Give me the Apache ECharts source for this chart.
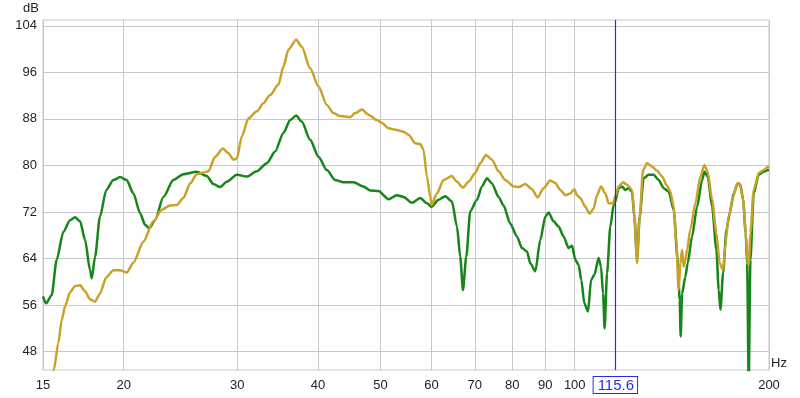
<!DOCTYPE html>
<html>
<head>
<meta charset="utf-8">
<script src="https://cdn.jsdelivr.net/npm/echarts@6/dist/echarts.min.js"></script>
<style>html,body{margin:0;padding:0;background:#fff}#c{width:800px;height:398px}</style>
</head>
<body>
<div id="c"></div>
<script>
const xTicks = [15, 20, 30, 40, 50, 60, 70, 80, 90, 100, 200];
const yTicks = [48, 56, 64, 72, 80, 88, 96, 104];
const cursorHz = 115.6;

const greenHz = [15.00,15.16,15.47,15.75,16.13,16.52,16.82,17.12,17.43,17.74,17.85,18.06,18.38,18.80,19.28,19.75,20.22,20.71,21.21,21.59,21.92,22.37,23.05,23.88,24.75,25.96,26.91,27.55,28.22,28.90,29.95,31.04,32.17,33.34,34.34,35.37,36.23,37.01,37.77,38.91,40.08,41.30,42.54,43.82,45.41,47.06,48.20,49.65,51.46,53.02,54.29,55.94,57.62,59.02,60.00,61.51,63.00,64.53,65.69,66.47,67.11,67.91,68.88,70.55,71.82,73.12,74.43,76.21,77.58,79.46,81.38,82.85,84.34,85.34,86.87,88.44,90.03,91.10,92.74,94.41,96.11,97.84,99.04,100.21,101.40,102.38,103.48,104.86,105.99,107.24,108.90,109.84,110.63,111.26,112.22,113.55,114.89,115.59,116.96,118.39,119.79,121.21,122.69,123.70,124.90,126.07,127.88,130.18,132.53,134.91,137.34,139.82,142.34,144.38,145.42,145.94,146.67,148.41,149.63,152.00,154.74,157.53,158.82,160.71,163.25,165.78,167.14,168.16,169.79,171.80,173.83,176.33,178.87,180.60,182.36,184.05,184.98,186.04,187.17,189.39,192.80,196.27,199.38,200];
const greenDb = [57.5,56.3,57.7,63.8,68.6,70.6,71.1,70.4,67.2,62.0,60.6,64.3,71.2,75.8,77.5,78.0,77.5,75.2,71.8,69.8,69.2,70.6,74.6,77.5,78.5,78.9,78.2,76.8,76.3,77.2,78.4,78.1,79.0,80.4,82.4,85.6,87.8,88.6,87.5,84.4,81.5,79.2,77.5,77.1,77.1,76.4,75.7,75.6,74.2,74.9,74.6,73.6,74.4,73.5,72.9,74.1,74.7,73.8,69.5,64.3,58.6,64.3,72.1,74.1,76.4,77.8,76.9,74.6,73.1,70.0,67.8,65.8,65.2,63.2,61.8,67.2,71.2,71.9,70.4,69.5,67.8,65.8,66.2,63.8,62.9,60.3,56.3,54.9,60.3,61.2,64.1,62.6,58.0,52.0,61.5,69.5,73.2,73.8,76.1,76.4,75.8,76.1,75.5,71.2,63.8,71.2,77.8,78.4,78.4,77.5,76.1,75.5,72.4,63.8,56.9,50.6,58.0,60.9,63.2,67.8,72.9,77.5,78.9,78.1,72.9,65.5,58.6,55.2,61.5,68.9,71.8,75.2,76.9,76.7,74.1,68.4,63.2,43.0,63.8,75.2,78.4,78.9,79.2,79.2];

const goldHz = [15.00,15.60,15.84,16.04,16.23,16.52,16.82,17.12,17.43,17.74,18.06,18.38,18.80,19.28,19.75,20.22,20.71,21.46,22.24,22.92,23.60,24.18,24.75,25.35,25.96,26.58,27.06,27.72,28.49,29.07,29.59,29.95,30.49,31.22,32.17,32.93,33.73,34.75,35.37,36.01,37.01,37.77,38.91,40.08,41.30,42.28,43.31,44.88,45.69,46.80,47.91,49.37,50.26,51.46,53.02,54.29,55.27,56.60,57.62,58.30,59.02,59.72,60.00,61.16,62.62,64.53,65.69,67.11,68.47,70.12,71.39,72.86,74.43,76.21,78.05,80.40,81.85,83.83,85.86,87.59,89.49,91.65,93.30,94.98,96.69,98.44,99.85,100.82,102.01,103.85,105.46,106.97,108.28,109.84,111.54,112.86,114.65,115.59,116.96,118.81,120.52,122.69,123.70,124.90,126.07,127.61,129.44,131.77,134.15,136.56,139.02,140.67,142.34,143.72,144.90,145.78,146.67,147.51,148.41,149.31,151.08,153.80,156.57,158.82,160.71,163.25,165.78,167.74,169.79,171.19,173.22,175.96,178.49,180.15,182.36,184.05,185.37,186.04,187.17,189.39,192.80,196.27,199.38,200];
const goldDb = [30.0,45.0,49.5,53.5,55.8,58.2,59.3,59.4,58.4,57.0,56.6,58.0,60.8,62.0,62.0,61.6,63.3,66.9,70.4,72.4,73.1,73.2,74.4,76.9,78.5,78.8,79.0,81.5,82.9,82.1,81.0,81.2,85.0,88.1,89.3,90.7,92.1,93.9,97.0,99.9,101.6,100.4,96.7,93.6,90.4,89.0,88.5,88.3,89.0,89.6,88.7,87.8,87.3,86.4,86.1,85.8,85.3,83.8,83.7,82.7,78.1,74.6,73.2,75.2,77.5,78.2,77.2,76.2,77.2,78.7,80.4,81.8,81.0,79.0,77.5,76.4,76.3,76.8,75.9,74.5,76.1,77.4,77.0,75.8,74.9,75.2,75.9,74.9,74.4,72.9,71.7,72.6,74.9,76.4,75.2,73.5,73.5,74.8,76.4,77.1,76.7,75.8,71.8,63.2,71.2,79.2,80.4,79.8,79.1,78.1,76.5,75.5,72.9,66.6,58.6,63.2,65.5,62.6,63.8,65.5,69.0,73.5,78.1,80.1,78.9,74.1,68.4,63.2,62.0,66.6,71.2,74.6,76.9,76.9,74.1,68.4,63.2,62.8,68.4,75.8,78.7,79.2,79.8,79.8];

const pairs = (xs, ys) => xs.map((x, i) => [x, ys[i]]);
const FONT = 'Liberation Sans';
const TXT = '#222';
const BLUE = '#2a2ae6';

const chart = echarts.init(document.getElementById('c'), null, {renderer: 'canvas'});
chart.setOption({
  animation: false,
  backgroundColor: '#fff',
  grid: {left: 43, right: 31, top: 20, bottom: 28, show: true, borderColor: '#c8c8c8', borderWidth: 1, backgroundColor: 'transparent'},
  xAxis: {
    type: 'log', logBase: 10, min: 15, max: 200,
    axisLine: {show: false},
    axisTick: {show: false, customValues: xTicks},
    axisLabel: {customValues: xTicks, fontSize: 13, color: TXT, fontFamily: FONT, margin: 9, formatter: v => String(Math.round(v))},
    splitLine: {show: true, lineStyle: {color: '#c8c8c8', width: 1}},
    name: 'Hz', nameLocation: 'end', nameGap: 2,
    nameTextStyle: {fontSize: 13, color: TXT, fontFamily: FONT, verticalAlign: 'bottom', padding: [0, 0, 0, 0]}
  },
  yAxis: {
    type: 'value', min: 44.85, max: 105,
    axisLine: {show: false},
    axisTick: {show: false, customValues: yTicks},
    axisLabel: {customValues: yTicks, fontSize: 13, color: TXT, fontFamily: FONT, margin: 6},
    splitLine: {show: true, lineStyle: {color: '#c8c8c8', width: 1}},
    name: 'dB', nameLocation: 'end', nameGap: 5,
    nameTextStyle: {fontSize: 13, color: TXT, fontFamily: FONT, align: 'right', padding: [0, 4, 0, 0]}
  },
  series: [
    {
      name: 'green', type: 'line', data: pairs(greenHz, greenDb),
      showSymbol: false, smooth: 0.25, smoothMonotone: 'x',
      lineStyle: {color: '#16851a', width: 2.5}, itemStyle: {color: '#16851a'}, z: 2
    },
    {
      name: 'gold', type: 'line', data: pairs(goldHz, goldDb),
      showSymbol: false, smooth: 0.25, smoothMonotone: 'x',
      lineStyle: {color: '#c9a22a', width: 2.5}, itemStyle: {color: '#c9a22a'}, z: 3,
      markLine: {
        silent: true, symbol: ['none', 'none'], animation: false, z: 10,
        itemStyle: {color: BLUE},
        lineStyle: {color: BLUE, width: 1.2, type: 'solid', opacity: 1},
        emphasis: {disabled: true},
        label: {show: true, position: 'start', formatter: String(cursorHz), color: BLUE, fontSize: 15, fontFamily: FONT,
                backgroundColor: '#fff', borderColor: BLUE, borderWidth: 1, padding: [1, 3, 0, 4], distance: 7},
        data: [{xAxis: cursorHz, lineStyle: {color: BLUE, width: 1.2, type: 'solid'}}]
      }
    }
  ]
});
</script>
</body>
</html>
